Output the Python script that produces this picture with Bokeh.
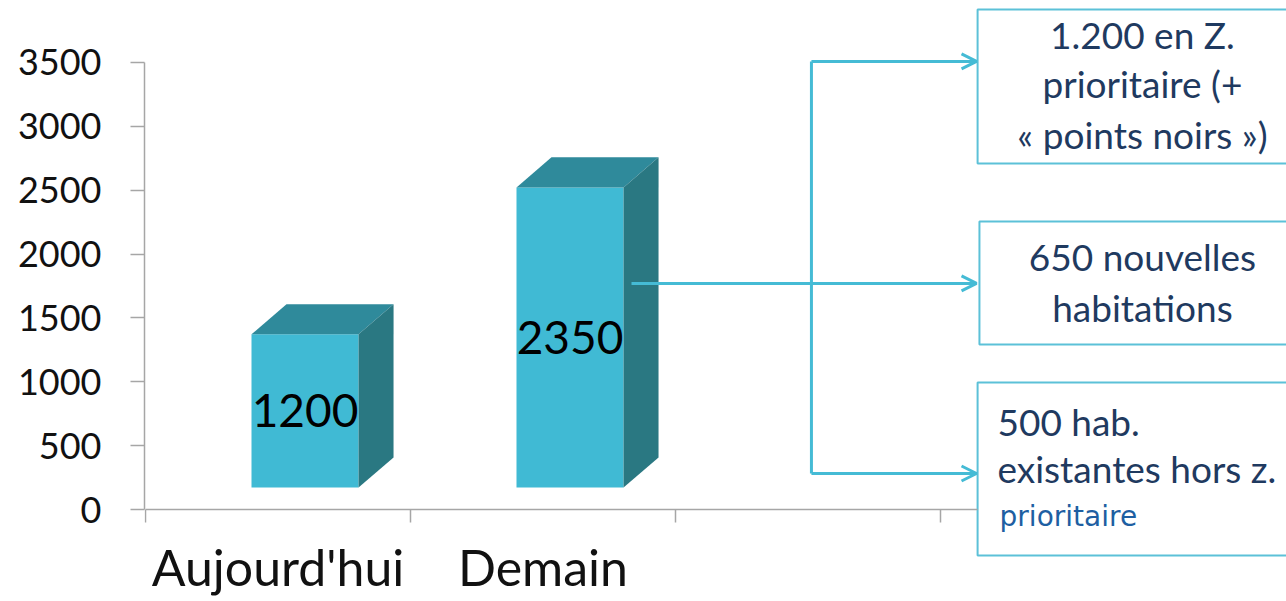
from bokeh.plotting import figure
from bokeh.models import Range1d, FixedTicker, ColumnDataSource, Arrow, OpenHead
from bokeh.core.properties import value
from bokeh.embed import file_html
from bokeh.resources import INLINE

# ---------------- data ----------------
categories = ["Aujourd'hui", "Demain"]
values = [1200, 2350]
n_slots = 3
y_ticks = [0, 500, 1000, 1500, 2000, 2500, 3000, 3500]
box1_lines = ["1.200 en Z.", "prioritaire (+", "« points noirs »)"]
box2_lines = ["650 nouvelles", "habitations"]
box3_lines = ["500 hab.", "existantes hors z."]
box3_note = ["prioritaire"]

# ---------------- style ----------------
FRONT = "#40BAD4"
TOP = "#2F8A9B"
SIDE = "#2A7882"
LINE = "#45BBD5"
BOXLINE = "#5CC1D8"
NAVY = "#1F3A60"
NOTE = "#1E5FA2"
AXIS = "#A6A6A6"
FONT = value("Lato")

FLOOR = 172
BAR_OFF = 0.40
BAR_W = 0.404
DX, DY = 0.132, 235

p = figure(width=1286, height=601, output_backend="svg", toolbar_location=None,
           x_range=Range1d(-0.00377, 4.3057), y_range=Range1d(-720, 3985),
           min_border_left=144, min_border_right=0, min_border_top=0, min_border_bottom=0)
p.title.visible = False
p.outline_line_color = None
p.xgrid.visible = False
p.ygrid.visible = False
p.background_fill_color = "white"
p.border_fill_color = "white"

# y axis
ya = p.yaxis[0]
ya.ticker = FixedTicker(ticks=y_ticks)
ya.bounds = (y_ticks[0], y_ticks[-1])
ya.axis_line_color = AXIS
ya.axis_line_width = 1.5
ya.major_tick_line_color = AXIS
ya.major_tick_line_width = 1.5
ya.major_tick_out = 14
ya.major_tick_in = 0
ya.minor_tick_line_color = None
ya.major_label_standoff = 29
ya.major_label_text_font = "Lato"
ya.major_label_text_font_size = "36px"
ya.major_label_text_color = "#111111"

# x axis (fixed at y = 0)
xa = p.xaxis[0]
xa.fixed_location = 0
label_pos = [i + 0.5 for i in range(len(categories))]
xa.ticker = FixedTicker(ticks=label_pos, minor_ticks=list(range(n_slots + 1)))
xa.major_label_overrides = {pos: c for pos, c in zip(label_pos, categories)}
xa.bounds = (0, 3.14)
xa.axis_line_color = AXIS
xa.axis_line_width = 1.5
xa.major_tick_line_color = None
xa.major_tick_out = 0
xa.major_tick_in = 0
xa.minor_tick_line_color = AXIS
xa.minor_tick_line_width = 1.5
xa.minor_tick_out = 13
xa.minor_tick_in = 0
xa.major_label_standoff = 14
xa.major_label_text_font = "Lato"
xa.major_label_text_font_size = "50px"
xa.major_label_text_color = "#111111"

# ---------------- 3D bars ----------------
n = len(values)
left = [i + BAR_OFF for i in range(n)]
right = [l + BAR_W for l in left]
bottom = [FLOOR] * n
top = [FLOOR + v for v in values]
src = ColumnDataSource(dict(left=left, right=right, bottom=bottom, top=top,
                            cx=[l + BAR_W / 2 for l in left],
                            cy=[FLOOR + v / 2 for v in values],
                            label=[str(v) for v in values]))
p.quad(left="left", right="right", bottom="bottom", top="top", source=src,
       fill_color=FRONT, line_color=None)
p.patches(xs=[[l, r, r + DX, l + DX] for l, r in zip(left, right)],
          ys=[[t, t, t + DY, t + DY] for t in top],
          fill_color=TOP, line_color=None)
p.patches(xs=[[r, r + DX, r + DX, r] for r in right],
          ys=[[b, b + DY, t + DY, t] for b, t in zip(bottom, top)],
          fill_color=SIDE, line_color=None)
p.text(x="cx", y="cy", text="label", source=src, text_font=FONT,
       text_font_size="46px", text_color="black", text_align="center",
       text_baseline="middle")

# ---------------- connectors ----------------
VX = 2.513
TIP = 3.136
Y_TOP, Y_MID, Y_BOT = 3508, 1770, 282
p.line(x=[VX, VX], y=[Y_TOP, Y_BOT], line_color=LINE, line_width=3)
for xs0, yy in [(VX, Y_TOP), (1.834, Y_MID), (VX, Y_BOT)]:
    p.add_layout(Arrow(end=OpenHead(size=15, line_color=LINE, line_width=3),
                       x_start=xs0, y_start=yy, x_end=TIP, y_end=yy,
                       line_color=LINE, line_width=3))

# ---------------- boxes ----------------
p.quad(left=[3.140, 3.147, 3.140], right=[4.6, 4.6, 4.6],
       top=[3915, 2255, 994], bottom=[2709, 1292, -360],
       fill_color="white", line_color=BOXLINE, line_width=2)

CX = 3.762
p.text(x=[CX] * 3, y=[3720, 3336, 2937], text=box1_lines, text_font=FONT,
       text_font_size="37px", text_color=NAVY, text_align="center",
       text_baseline="alphabetic")
p.text(x=[CX] * 2, y=[1981, 1582], text=box2_lines, text_font=FONT,
       text_font_size="37px", text_color=NAVY, text_align="center",
       text_baseline="alphabetic")
p.text(x=[3.215] * 2, y=[689, 321], text=box3_lines, text_font=FONT,
       text_font_size="37px", text_color=NAVY, text_align="left",
       text_baseline="alphabetic")
p.text(x=[3.223], y=[-55], text=box3_note, text_font=value("DejaVu Sans"),
       text_font_size="28px", text_color=NOTE, text_align="left",
       text_baseline="alphabetic")

open("out.html", "w").write(file_html(p, INLINE))
